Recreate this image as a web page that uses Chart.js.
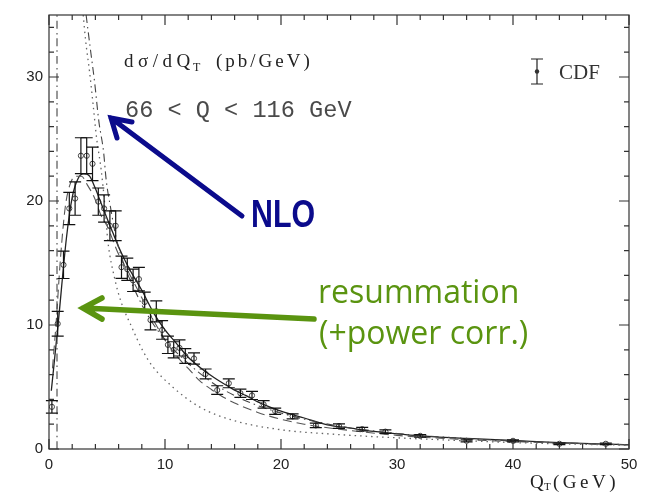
<!DOCTYPE html>
<html>
<head>
<meta charset="utf-8">
<script src="https://cdn.jsdelivr.net/npm/chart.js@4.4.1/dist/chart.umd.min.js"></script>
<style>
  body { margin: 0; background: #fff; }
  #wrap { width: 646px; height: 492px; }
</style>
</head>
<body>
<div id="wrap"><canvas id="qtChart" width="646" height="492"></canvas></div>
<script>
// CDF Z boson qT spectrum, 66 < Q < 116 GeV, with theory curves

// CDF data: bin centres (GeV), cross section (pb/GeV), errors
const cdfQt = [0.25, 0.75, 1.25, 1.75, 2.25, 2.75, 3.25, 3.75, 4.25, 4.75, 5.25, 5.75,
    6.25, 6.75, 7.25, 7.75, 8.25, 8.75, 9.25, 9.75, 10.25, 10.75, 11.25, 11.75,
    12.5, 13.5, 14.5, 15.5, 16.5, 17.5, 18.5, 19.5, 21, 23, 25, 27, 29, 32, 36, 40, 44, 48];
const cdfValue = [3.4, 10.1, 14.85, 19.4, 20.2, 23.65, 23.65, 23.0, 19.95, 19.4, 18.0, 18.0,
    14.66, 14.5, 13.6, 13.7, 11.85, 10.4, 11.1, 9.6, 8.4, 8.0, 8.15, 7.5,
    7.3, 6.05, 4.75, 5.3, 4.5, 4.32, 3.6, 3.05, 2.63, 1.9, 1.85, 1.6, 1.4, 1.06, 0.66, 0.66, 0.42, 0.42];
const cdfError = [0.5, 1.0, 1.1, 1.3, 1.35, 1.45, 1.45, 1.35, 1.1, 1.1, 1.2, 1.2,
    0.9, 0.9, 0.9, 0.95, 0.8, 0.8, 0.85, 0.75, 0.7, 0.65, 0.65, 0.6,
    0.45, 0.4, 0.35, 0.36, 0.33, 0.33, 0.3, 0.25, 0.2, 0.18, 0.18, 0.15, 0.14, 0.1, 0.08, 0.08, 0.06, 0.06];

// resummation + power corrections (solid)
const resumQt  = [0.2, 0.8, 1.5, 2.0, 2.5, 3.0, 3.5, 4.0, 4.5, 5.0, 5.5, 6.0, 6.5, 7.0, 7.5, 8.0, 9.0, 10, 11, 12, 13, 14, 15, 16, 17, 18, 19, 20, 22, 24, 26, 28, 30, 32, 36, 40, 44, 48, 50];
const resumVal = [4.7, 10.2, 17.0, 20.3, 21.8, 22.2, 22.0, 21.0, 19.8, 18.6, 17.45, 16.3, 15.3, 14.4, 13.6, 12.8, 11.0, 9.6, 8.5, 7.4, 6.6, 5.9, 5.3, 4.75, 4.3, 3.8, 3.4, 3.05, 2.5, 1.95, 1.68, 1.42, 1.22, 1.06, 0.85, 0.69, 0.52, 0.4, 0.34];

// alternative resummed curve (long dashed)
const dashQt  = [0.3, 0.6, 1.0, 1.4, 1.8, 2.3, 2.8, 3.3, 3.9, 4.5, 5, 6, 7, 8, 9, 10, 11, 12, 13, 14, 15, 16, 17, 18, 19, 20, 22, 25, 30, 35, 40, 45, 50];
const dashVal = [6.5, 10.0, 15.5, 19.5, 21.3, 22.0, 22.0, 21.3, 20.3, 18.8, 18.0, 15.7, 14.0, 12.2, 10.4, 8.8, 7.5, 6.5, 5.5, 4.8, 4.2, 3.7, 3.3, 2.95, 2.65, 2.4, 2.0, 1.6, 1.1, 0.8, 0.6, 0.45, 0.33];

// fixed order NLO (dash-dot)
const nloQt  = [3.2, 3.56, 3.93, 4.3, 4.7, 4.93, 5.3, 5.8, 6.5, 7.5, 8.5, 10, 12, 14, 16, 18, 20, 23, 26, 30, 35, 40, 45, 50];
const nloVal = [35, 32.3, 29.6, 26.4, 24.0, 21.7, 19.5, 17.0, 14.8, 12.6, 10.8, 8.8, 6.9, 5.4, 4.3, 3.5, 2.9, 2.2, 1.7, 1.25, 0.9, 0.65, 0.47, 0.35];
const nloLowQt  = [0.69, 0.69];
const nloLowVal = [0, 35];

// lowest order (dotted)
const loQt  = [2.95, 3.15, 3.5, 3.8, 4.1, 4.5, 4.8, 5.07, 5.65, 6.2, 7.1, 8.1, 8.9, 10.66, 12.96, 15.8, 20.1, 24.1, 30, 35, 40, 45, 50];
const loVal = [35, 33, 30.4, 27.8, 25.1, 22.5, 19.8, 16.8, 13.8, 11.9, 9.9, 7.9, 6.7, 5.0, 3.4, 2.33, 1.54, 1.22, 0.9, 0.7, 0.52, 0.4, 0.3];

const xTicks = [0, 10, 20, 30, 40, 50];
const yTicks = [0, 10, 20, 30];

const toPoints = (xs, ys) => xs.map((x, i) => ({ x: x, y: ys[i] }));

const curveStyle = (color, width, dash) => ({
    showLine: true,
    borderColor: color,
    borderWidth: width,
    borderDash: dash,
    pointRadius: 0,
    fill: false,
    cubicInterpolationMode: 'monotone'
});

// frame, inward ticks, error bars, labels and arrows
const decorPlugin = {
    id: 'decor',
    afterDatasetsDraw(chart) {
        const ctx = chart.ctx;
        const xs = chart.scales.x, ys = chart.scales.y;
        const a = chart.chartArea;

        // error bars
        ctx.save();
        ctx.strokeStyle = '#111';
        ctx.lineWidth = 1.2;
        cdfQt.forEach((q, i) => {
            const px = xs.getPixelForValue(q);
            const top = ys.getPixelForValue(cdfValue[i] + cdfError[i]);
            const bot = ys.getPixelForValue(cdfValue[i] - cdfError[i]);
            ctx.beginPath();
            ctx.moveTo(px, top); ctx.lineTo(px, bot);
            ctx.moveTo(px - 6, top); ctx.lineTo(px + 6, top);
            ctx.moveTo(px - 6, bot); ctx.lineTo(px + 6, bot);
            ctx.stroke();
        });
        ctx.restore();

        // frame and ticks
        ctx.save();
        ctx.strokeStyle = '#333';
        ctx.lineWidth = 1.2;
        ctx.strokeRect(a.left, a.top, a.right - a.left, a.bottom - a.top);
        ctx.beginPath();
        for (let v = 0; v <= 50; v += 2) {
            const px = xs.getPixelForValue(v);
            const len = v % 10 === 0 ? 10 : 5;
            ctx.moveTo(px, a.bottom); ctx.lineTo(px, a.bottom - len);
            ctx.moveTo(px, a.top); ctx.lineTo(px, a.top + len);
        }
        for (let v = 0; v <= 34; v += 2) {
            const py = ys.getPixelForValue(v);
            const len = v % 10 === 0 ? 10 : 5;
            ctx.moveTo(a.left, py); ctx.lineTo(a.left + len, py);
            ctx.moveTo(a.right, py); ctx.lineTo(a.right - len, py);
        }
        ctx.stroke();
        ctx.restore();
    },
    afterDraw(chart) {
        const ctx = chart.ctx;
        ctx.save();

        // plot texts
        ctx.fillStyle = '#222';
        ctx.textBaseline = 'alphabetic';
        ctx.font = '19px "Liberation Serif"';
        ctx.letterSpacing = '4.5px';
        ctx.fillText('dσ/dQ', 124, 67);
        ctx.font = '12px "Liberation Serif"';
        ctx.letterSpacing = '0px';
        ctx.fillText('T', 193, 71);
        ctx.font = '19px "Liberation Serif"';
        ctx.letterSpacing = '3px';
        ctx.fillText('(pb/GeV)', 216, 67);

        ctx.fillStyle = '#4a4a4a';
        ctx.letterSpacing = '0px';
        ctx.font = '23.6px "Liberation Mono"';
        ctx.fillText('66 < Q < 116 GeV', 125, 117);

        // axis title
        ctx.fillStyle = '#222';
        ctx.font = '19px "Liberation Serif"';
        ctx.fillText('Q', 530, 488);
        ctx.font = '11px "Liberation Serif"';
        ctx.fillText('T', 544, 490);
        ctx.font = '19px "Liberation Serif"';
        ctx.letterSpacing = '3.5px';
        ctx.fillText('(GeV)', 553, 488);
        ctx.letterSpacing = '0px';

        // legend
        ctx.strokeStyle = '#222';
        ctx.lineWidth = 1.2;
        ctx.beginPath();
        ctx.moveTo(537, 59); ctx.lineTo(537, 84);
        ctx.moveTo(531, 59); ctx.lineTo(543, 59);
        ctx.moveTo(531, 84); ctx.lineTo(543, 84);
        ctx.stroke();
        ctx.fillStyle = '#333';
        ctx.beginPath();
        ctx.arc(537, 71.5, 2.2, 0, Math.PI * 2);
        ctx.fill();
        ctx.font = '21px "Liberation Serif"';
        ctx.fillText('CDF', 559, 79);

        // NLO arrow
        const blue = '#0b0b8c';
        ctx.strokeStyle = blue;
        ctx.lineWidth = 5;
        ctx.lineCap = 'round';
        ctx.beginPath();
        ctx.moveTo(242, 216); ctx.lineTo(111, 118);
        ctx.moveTo(132, 122); ctx.lineTo(111, 118); ctx.lineTo(117, 138);
        ctx.stroke();
        ctx.fillStyle = blue;
        ctx.font = 'bold 38px "Liberation Sans"';
        ctx.save();
        ctx.translate(251, 227);
        ctx.scale(0.8, 1);
        ctx.fillText('NLO', 0, 0);
        ctx.restore();

        // resummation arrow
        const green = '#5a9410';
        ctx.strokeStyle = green;
        ctx.lineWidth = 5.5;
        ctx.beginPath();
        ctx.moveTo(314, 319); ctx.lineTo(83, 308);
        ctx.moveTo(102, 298); ctx.lineTo(83, 308); ctx.lineTo(102, 319);
        ctx.stroke();
        ctx.fillStyle = green;
        ctx.font = '32px "Open Sans"';
        ctx.fillText('resummation', 318, 303);
        ctx.fillText('(+power corr.)', 319, 344);

        ctx.restore();
    }
};

new Chart(document.getElementById('qtChart'), {
    type: 'scatter',
    data: {
        datasets: [
            { label: 'NLO low', data: toPoints(nloLowQt, nloLowVal), ...curveStyle('#444', 1.1, [8, 4, 1.5, 4]) },
            { label: 'LO', data: toPoints(loQt, loVal), ...curveStyle('#666', 1.3, [1.5, 4]) },
            { label: 'NLO', data: toPoints(nloQt, nloVal), ...curveStyle('#444', 1.1, [8, 4, 1.5, 4]) },
            { label: 'resum alt', data: toPoints(dashQt, dashVal), ...curveStyle('#555', 1.1, [9, 5]) },
            { label: 'resum', data: toPoints(resumQt, resumVal), ...curveStyle('#222', 1.3, []) },
            {
                label: 'CDF',
                data: toPoints(cdfQt, cdfValue),
                pointRadius: 2.6,
                pointBorderColor: '#444',
                pointBackgroundColor: 'rgba(0,0,0,0)',
                pointBorderWidth: 1
            }
        ]
    },
    options: {
        responsive: false,
        animation: false,
        devicePixelRatio: 1,
        layout: { padding: { top: 9, right: 17, left: 0, bottom: 0 } },
        plugins: { legend: { display: false }, tooltip: { enabled: false } },
        scales: {
            x: {
                type: 'linear',
                min: 0,
                max: 50,
                grid: { display: false, drawTicks: false },
                border: { display: false },
                afterBuildTicks: scale => { scale.ticks = xTicks.map(v => ({ value: v })); },
                afterFit: scale => { scale.height = 43; },
                ticks: { color: '#222', padding: 7, maxRotation: 0, font: { family: 'Liberation Sans', size: 15 } }
            },
            y: {
                min: 0,
                max: 35,
                grid: { display: false, drawTicks: false },
                border: { display: false },
                afterBuildTicks: scale => { scale.ticks = yTicks.map(v => ({ value: v })); },
                afterFit: scale => { scale.width = 49; },
                ticks: { color: '#222', padding: 6, font: { family: 'Liberation Sans', size: 15 } }
            }
        }
    },
    plugins: [decorPlugin]
});
</script>
</body>
</html>
